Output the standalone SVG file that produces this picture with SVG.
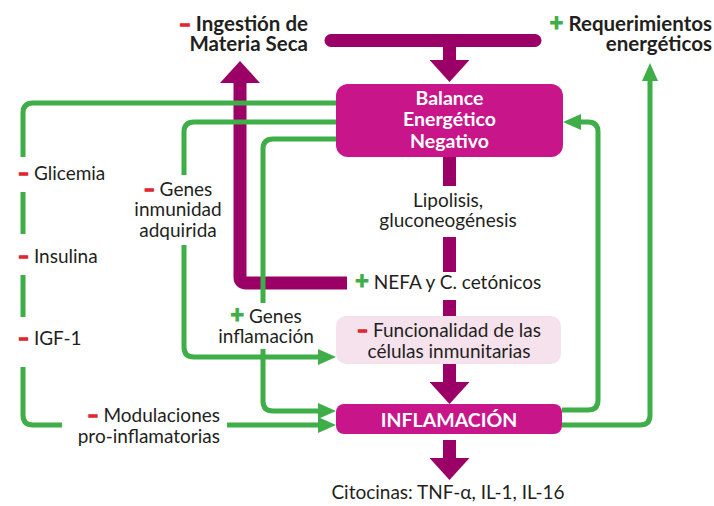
<svg xmlns="http://www.w3.org/2000/svg" width="714" height="506" viewBox="0 0 714 506">
<style>
text{font-family:Lato,"Liberation Sans",sans-serif;font-size:19px;fill:#231f20}
.b{font-weight:bold;font-size:20.5px}
.w{fill:#fff;font-weight:bold;font-size:19.5px}
.neg{fill:#e0262f;stroke:#e0262f;stroke-width:1.6px;font-weight:900}
.pos{fill:#3fae49;stroke:#3fae49;stroke-width:0.8px;font-weight:900;font-size:24px}
.p{fill:none;stroke:#9b0066;stroke-width:13}
.g{fill:none;stroke:#3fae49;stroke-width:5}
</style>
<defs>
<marker id="ga" markerUnits="userSpaceOnUse" markerWidth="18" markerHeight="16" refX="8" refY="8" orient="auto"><path d="M0,0L18,8L0,16z" fill="#3fae49"/></marker>
<marker id="pa" markerUnits="userSpaceOnUse" markerWidth="22" markerHeight="40" refX="6" refY="20" orient="auto"><path d="M0,0L22,20L0,40z" fill="#9b0066"/></marker>
</defs>
<g id="connectors">
<path class="p" d="M331,40.5H535" stroke-linecap="round"/>
<path class="p" d="M449.5,40V66" marker-end="url(#pa)"/>
<path class="p" d="M347,283H246Q240,283 240,277V77" marker-end="url(#pa)"/>
<path class="p" d="M449.5,157V186M449.5,237V272M449.5,300V316"/>
<path class="p" d="M449.5,364V388" marker-end="url(#pa)"/>
<path class="p" d="M449.5,440V464" marker-end="url(#pa)"/>
<path class="g" d="M336,103H33Q23,103 23,113V157M23,192V234M23,275V317M23,367V415Q23,425 33,425H62"/>
<path class="g" d="M227,425H326" marker-end="url(#ga)"/>
<path class="g" d="M336,122H194Q184,122 184,132V175"/>
<path class="g" d="M184,245V347Q184,357 194,357H326" marker-end="url(#ga)"/>
<path class="g" d="M336,139H273Q263,139 263,149V303"/>
<path class="g" d="M263,349V401Q263,411 273,411H326" marker-end="url(#ga)"/>
<path class="g" d="M562,410H588Q598,410 598,400V132Q598,122 588,122H573" marker-end="url(#ga)"/>
<path class="g" d="M562,425H640Q650,425 650,415V73" marker-end="url(#ga)"/>
</g>
<g id="ingestion">
<text x="308" y="31" text-anchor="end" class="b"><tspan class="neg">–</tspan> Ingestión de<tspan x="308" y="51">Materia Seca</tspan></text>
</g>
<g id="requerimientos">
<text x="712" y="31" text-anchor="end" class="b"><tspan class="pos">+</tspan> Requerimientos<tspan x="712" y="51">energéticos</tspan></text>
</g>
<g id="balance">
<rect x="336" y="84" width="227" height="73" rx="12" fill="#c8168a"/>
<text x="449.5" y="105" text-anchor="middle" class="w">Balance<tspan x="449.5" y="126">Energético</tspan><tspan x="449.5" y="148">Negativo</tspan></text>
</g>
<g id="lipolisis">
<text x="448" y="207" text-anchor="middle">Lipolisis,<tspan x="448" y="227">gluconeogénesis</tspan></text>
</g>
<g id="nefa">
<text x="355" y="289"><tspan class="pos">+</tspan> NEFA y C. cetónicos</text>
</g>
<g id="funcionalidad">
<rect x="336" y="316" width="225" height="48" rx="10" fill="#f6e2ed"/>
<text x="449" y="337" text-anchor="middle"><tspan class="neg">–</tspan> Funcionalidad de las<tspan x="449" y="358">células inmunitarias</tspan></text>
</g>
<g id="inflamacion">
<rect x="336" y="404" width="226" height="30" rx="8" fill="#c8168a"/>
<text x="449" y="427" text-anchor="middle" class="w">INFLAMACIÓN</text>
</g>
<g id="citocinas">
<text x="448" y="499" text-anchor="middle">Citocinas: TNF-α, IL-1, IL-16</text>
</g>
<g id="glicemia"><text x="18" y="180"><tspan class="neg">–</tspan> Glicemia</text></g>
<g id="insulina"><text x="18" y="263"><tspan class="neg">–</tspan> Insulina</text></g>
<g id="igf1"><text x="18" y="345"><tspan class="neg">–</tspan> IGF-1</text></g>
<g id="genes-inmunidad">
<text x="178" y="196" text-anchor="middle"><tspan class="neg">–</tspan> Genes<tspan x="178" y="216">inmunidad</tspan><tspan x="178" y="237">adquirida</tspan></text>
</g>
<g id="genes-inflamacion">
<text x="266" y="323" text-anchor="middle"><tspan class="pos">+</tspan> Genes<tspan x="266" y="343">inflamación</tspan></text>
</g>
<g id="modulaciones">
<text x="220" y="422" text-anchor="end"><tspan class="neg">–</tspan> Modulaciones<tspan x="220" y="443">pro-inflamatorias</tspan></text>
</g>
</svg>
